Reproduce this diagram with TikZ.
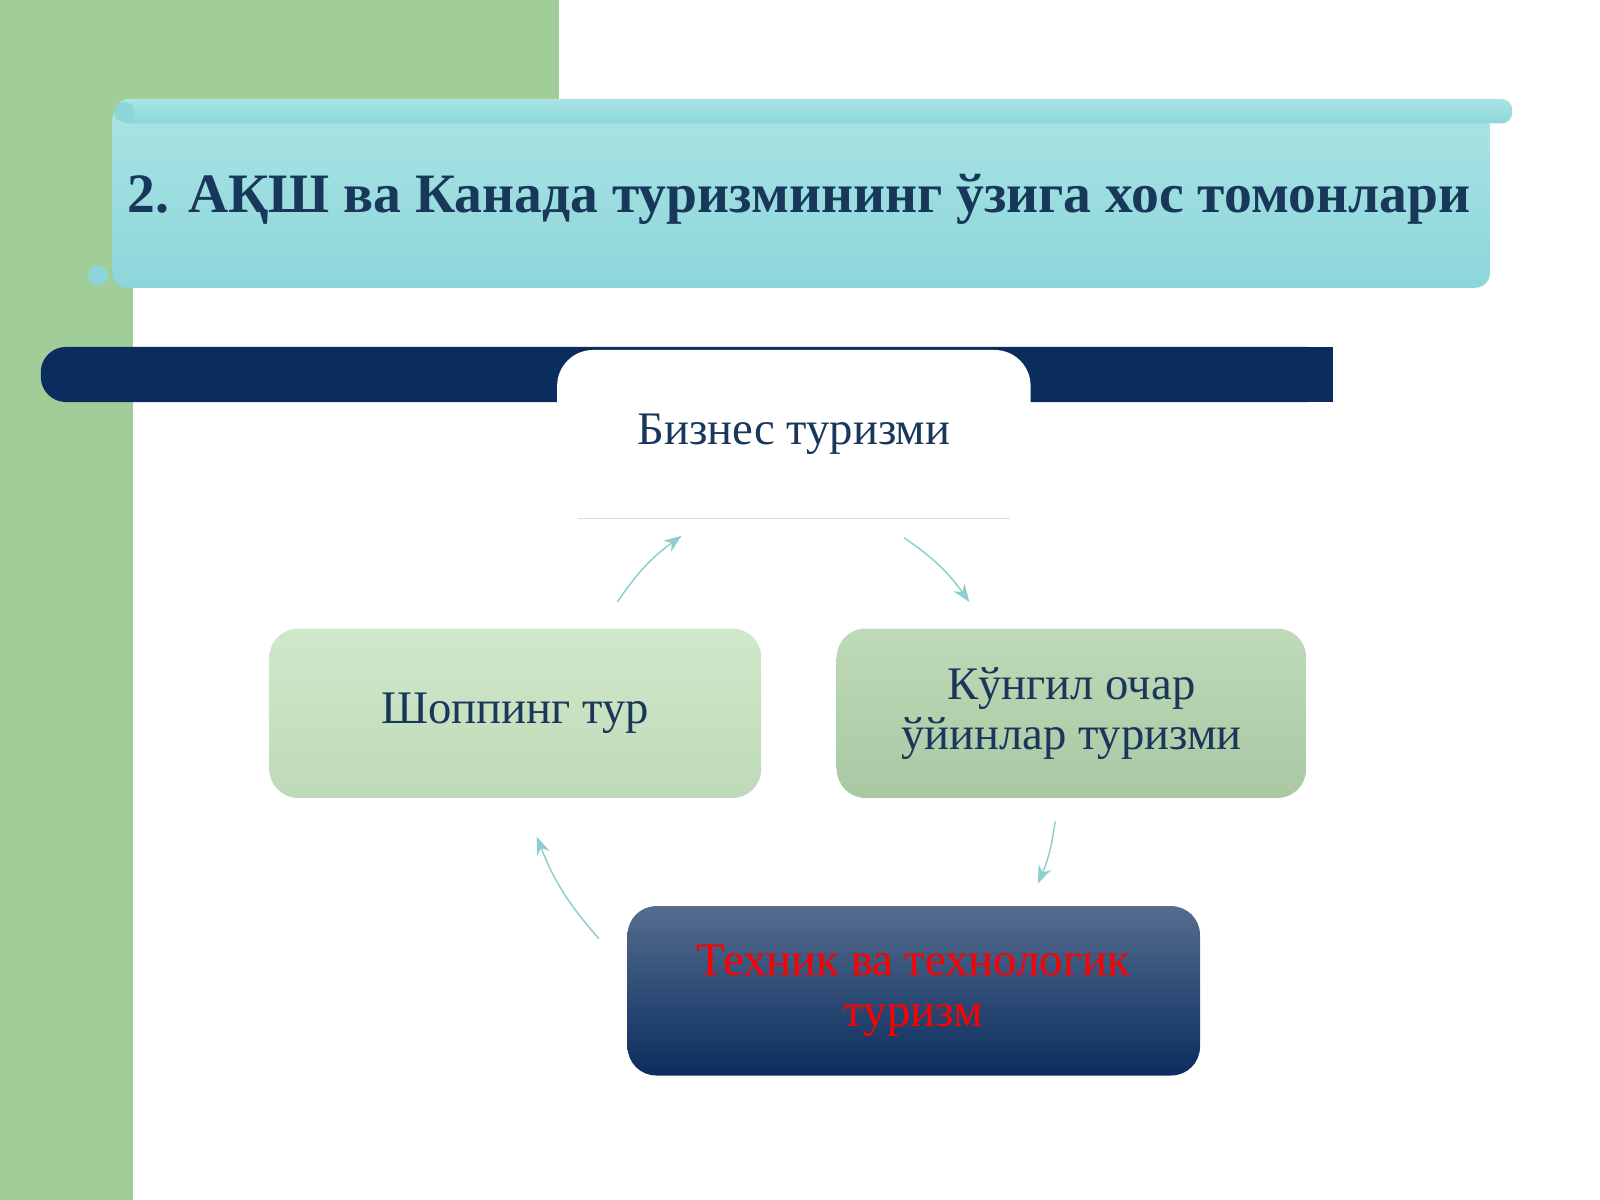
\documentclass[tikz,border=0pt]{standalone}
\usepackage{fontspec}
\setmainfont{Liberation Serif}
\usetikzlibrary{arrows.meta}
\definecolor{band}{RGB}{160,205,152}
\definecolor{navy}{RGB}{11,45,94}
\definecolor{titleblue}{RGB}{25,55,90}
\definecolor{cyanA}{RGB}{170,228,228}
\definecolor{cyanB}{RGB}{140,214,218}
\definecolor{greenA}{RGB}{208,232,202}
\definecolor{greenB}{RGB}{190,218,184}
\definecolor{greenC}{RGB}{170,200,164}
\definecolor{arrowteal}{RGB}{140,205,205}
\tikzset{
  box/.style={rounded corners=8pt, draw=none},
  boxtext/.style={font=\fontsize{13}{14}\selectfont, text=titleblue, align=center},
  cyc/.style={draw=arrowteal, thin, -{Stealth[length=5pt]}}
}
\begin{document}
\begin{tikzpicture}[x=0.01cm,y=-0.01cm]
\useasboundingbox (0,0) rectangle (1568,1176);
% background
\fill[band] (0,0) rectangle (548,100);
\fill[band] (0,0) rectangle (130,1176);
% title banner
\shade[top color=cyanA, bottom color=cyanB, rounded corners=4pt] (110,104) rectangle (1460,282);
\shade[top color=cyanA, bottom color=cyanB, rounded corners=3pt] (115,97) rectangle (1482,121);
\fill[cyanB] (96,270) circle (10);
\fill[cyanB] (122,110) circle (10);
\node[font=\bfseries\fontsize{15.5}{17}\selectfont, text=titleblue] (title) at (783,195)
  {2. АҚШ ва Канада туризмининг ўзига хос томонлари};
% navy bar
\fill[navy, rounded corners=7pt] (40,340) rectangle (1306,394);
\fill[navy] (100,340) rectangle (1306,394);
% boxes
\fill[white, rounded corners=10pt] (546,343) rectangle (1010,508);
\fill[white] (546,420) rectangle (1010,508);
\draw[gray!25] (566,508) -- (990,508);
\node[boxtext] (biz) at (778,426) {Бизнес туризми};
\shade[box, top color=greenA, bottom color=greenB] (264,616) rectangle (746,782);
\node[boxtext] (shop) at (505,699) {Шоппинг тур};
\shade[box, top color=greenB, bottom color=greenC] (820,616) rectangle (1280,782);
\node[boxtext] (kung) at (1050,699) {Кўнгил очар\\ўйинлар туризми};
\shade[box, top color=navy!70!white, bottom color=navy] (615,888) rectangle (1176,1054);
\node[boxtext, text=red] (tech) at (895,971) {Техник ва технологик\\туризм};
% cycle arrows
\coordinate (a1) at (605,590); \coordinate (a2) at (668,525);
\coordinate (b1) at (886,527); \coordinate (b2) at (950,590);
\coordinate (c1) at (1034,805); \coordinate (c2) at (1017,866);
\coordinate (d1) at (587,920); \coordinate (d2) at (526,820);
\draw[cyc] (a1) to[bend left=10] (a2);
\draw[cyc] (b1) to[bend left=10] (b2);
\draw[cyc] (c1) to[bend left=8] (c2);
\draw[cyc] (d1) to[bend left=10] (d2);
\end{tikzpicture}
\end{document}
